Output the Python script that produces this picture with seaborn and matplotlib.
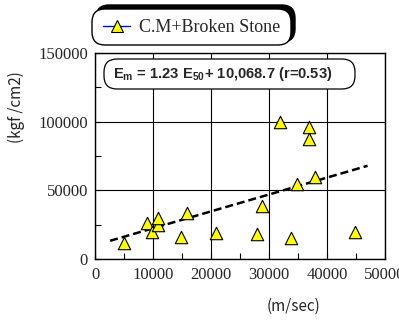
import matplotlib
matplotlib.use('Agg')
import matplotlib.pyplot as plt
import numpy as np
import pandas as pd
import seaborn as sns
from matplotlib.lines import Line2D
from matplotlib.patches import FancyBboxPatch
from matplotlib.transforms import IdentityTransform

sns.set_style("white")
plt.rcParams['mathtext.fontset'] = 'custom'
plt.rcParams['mathtext.rm'] = 'Liberation Sans:bold'
plt.rcParams['mathtext.bf'] = 'Liberation Sans:bold'

# data
velocity = [5000, 8900, 9900, 10900, 10900, 15800, 14900, 20900, 27900,
            28800, 31900, 33800, 34900, 36900, 36900, 37900, 44900]
modulus = [11800, 25900, 19800, 24600, 29500, 33600, 16200, 18600, 17900,
           38400, 100000, 15400, 54800, 96400, 87400, 59600, 19800]
series_name = "C.M+Broken Stone"
fit_slope = 1.23
fit_intercept = 10068.7
fit_x = [2600, 47000]
eq_text = r"E$_\mathrm{m}$ = 1.23 E$_\mathrm{50}$+ 10,068.7 (r=0.53)"
x_ticks = [0, 10000, 20000, 30000, 40000, 50000]
y_ticks = [0, 50000, 100000, 150000]

df = pd.DataFrame({"v": velocity, "e": modulus})
fit_df = pd.DataFrame({"v": fit_x, "e": [fit_slope * x + fit_intercept for x in fit_x]})

W, H = 399, 320
fig = plt.figure(figsize=(W / 100, H / 100), dpi=100)
ax = fig.add_axes([95 / W, 1 - 259 / H, 290 / W, 206 / H])

sns.lineplot(data=fit_df, x="v", y="e", ax=ax, color="black", lw=1.8,
             linestyle=(0, (3.2, 1.6)), zorder=3)
sns.scatterplot(data=df, x="v", y="e", ax=ax, marker="^", s=80,
                color="#ffff00", edgecolor="black", linewidth=0.8, zorder=4)

ax.set_xlim(0, 50000)
ax.set_ylim(0, 150000)
ax.set_xticks(x_ticks)
ax.set_xticks(np.arange(0, 50001, 5000), minor=True)
ax.set_yticks(y_ticks)
ax.set_yticks(np.arange(0, 150001, 25000), minor=True)
ax.set_xticklabels([str(t) for t in x_ticks], family="Liberation Serif", fontsize=12)
ax.set_yticklabels([str(t) for t in y_ticks], family="Liberation Serif", fontsize=12)
ax.tick_params(which="both", direction="in", length=4, width=0.8, color="black",
               bottom=True, left=True, top=False, right=False)
ax.tick_params(axis="x", which="major", pad=6)
ax.tick_params(axis="y", which="major", pad=5)
ax.grid(True, which="major", color="black", lw=0.8)
for sp in ax.spines.values():
    sp.set_color("black")
    sp.set_linewidth(1.0)
ax.set_xlabel("")
ax.set_ylabel("")

fig.text(16 / W, 1 - 107 / H, "(kgf /cm2)", rotation=90, ha="center", va="center",
         family=["Noto Sans CJK JP", "DejaVu Sans"], fontsize=11)
fig.text(294 / W, 1 - 306 / H, "(m/sec)", ha="center", va="center",
         family=["Noto Sans CJK JP", "DejaVu Sans"], fontsize=11)


def rbox(x0, y0, x1, y1, r, fc, ec, lw, z):
    # pixel box, measured from the top-left of the image
    p = FancyBboxPatch((x0 + r, H - y1 + r), x1 - x0 - 2 * r, y1 - y0 - 2 * r,
                       boxstyle="round,pad=%f,rounding_size=%f" % (r, r),
                       transform=IdentityTransform(), fc=fc, ec=ec, lw=lw, zorder=z)
    fig.patches.append(p)
    return p


# legend box with shadow to the upper right
rbox(96, 5, 295, 42, 13, "black", "black", 1.0, 1)
rbox(92, 9, 291, 45, 13, "white", "black", 1.0, 2)
handle = Line2D([], [], color="blue", lw=1.0, marker="^", ms=9,
                mfc="#ffff00", mec="black", mew=0.8)
leg = fig.legend([handle], [series_name], loc="center left",
                 bbox_to_anchor=(103 / W, 1 - 28 / H), frameon=False,
                 prop={"family": "Liberation Serif", "size": 13},
                 handlelength=1.5, handletextpad=0.5, borderpad=0,
                 borderaxespad=0)
leg.set_zorder(5)

# equation box
rbox(104, 59, 355, 89, 13, "white", "black", 0.9, 5)
fig.text(223 / W, 1 - 74 / H, eq_text, ha="center", va="center",
         family="Liberation Sans", weight="bold", fontsize=10.6, zorder=6)

fig.savefig("out.png", dpi=100)
